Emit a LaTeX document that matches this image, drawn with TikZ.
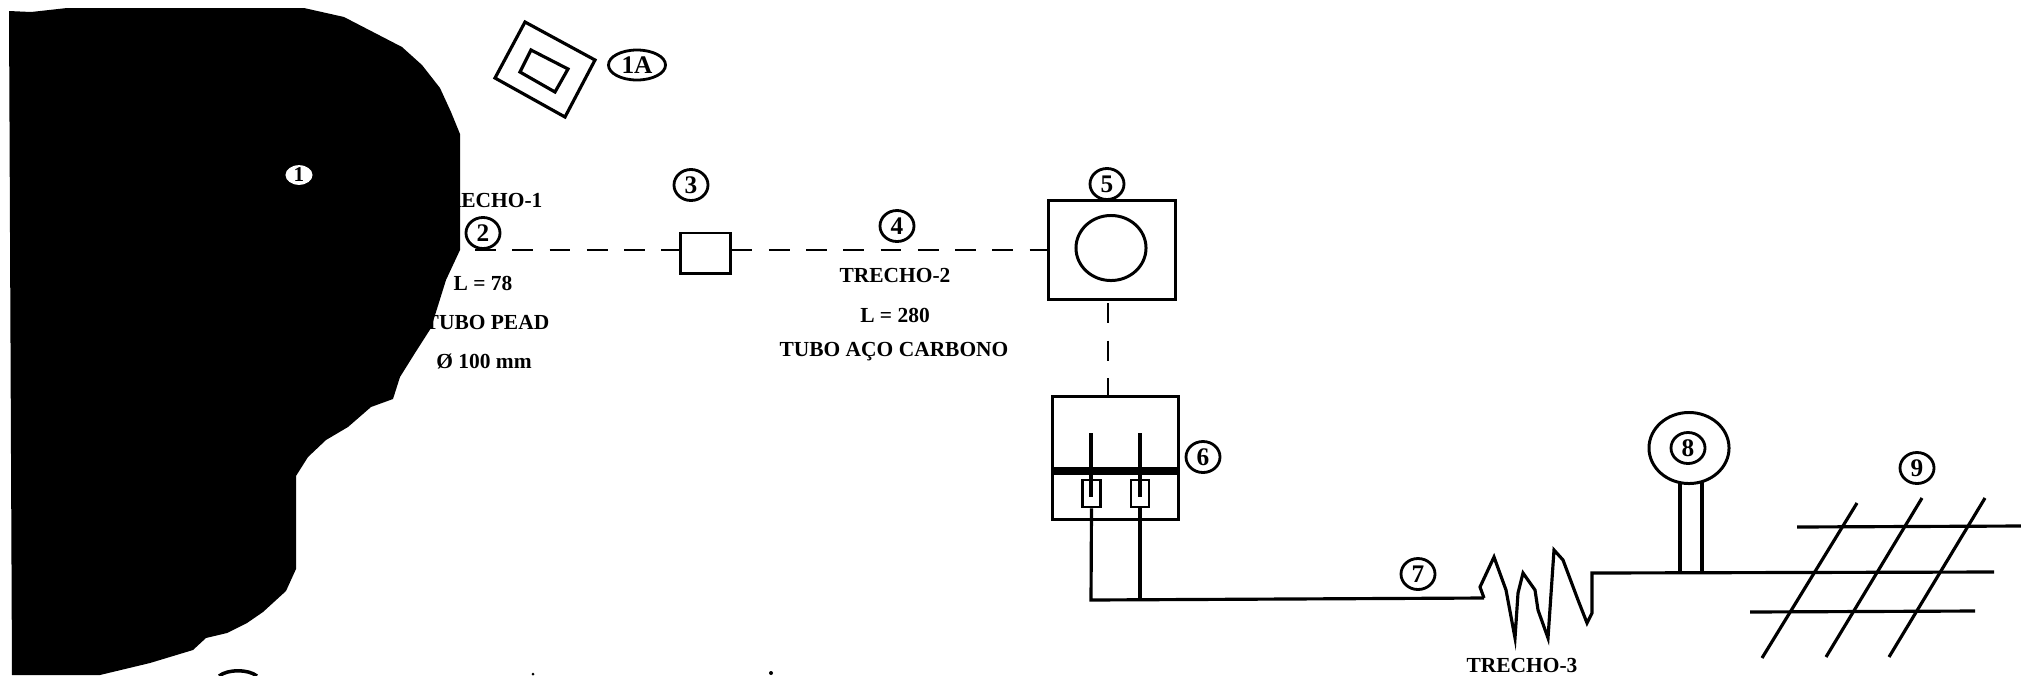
\documentclass[tikz,border=0pt]{standalone}
\usepackage{fontspec}
\setmainfont{Liberation Serif}
\usetikzlibrary{shapes.geometric}
\tikzset{
    trecho/.style={font=\fontsize{6.1}{7}\selectfont\bfseries,inner sep=0pt},
    tag/.style={draw,ellipse,line width=0.8pt,inner sep=0pt,minimum width=0.34cm,minimum height=0.31cm,font=\fontsize{7.2}{8}\selectfont\bfseries},
    pipe/.style={line width=0.9pt},
    buried/.style={line width=0.7pt,dash pattern=on 5.9pt off 4.7pt},
    thin box/.style={draw,line width=0.85pt,inner sep=0pt}
}
\begin{document}
\begin{tikzpicture}[x=0.01cm,y=-0.01cm]
    \useasboundingbox (0,0) rectangle (2021,675);
    % texts of the first stretch, the dark area covers their left part
    \node[trecho] (t1a) at (487,200) {TRECHO-1};
    \node[trecho] (t1b) at (483,283) {L = 78};
    \node[trecho] (t1c) at (487,322) {TUBO PEAD};
    \node[trecho] (t1d) at (484,361) {Ø 100 mm};
    % dark area with its mark
    \fill[black] (9,11) -- (31,12) -- (67,8) -- (304,8) -- (344,17) -- (402,47) -- (422,65) -- (440,88) -- (451,112) -- (460,134) -- (460,250) -- (446,280) -- (431,328) -- (415,353) -- (400,377) -- (393,399) -- (371,407) -- (348,427) -- (326,440) -- (308,457) -- (296,476) -- (296,569) -- (286,591) -- (263,612) -- (247,623) -- (227,633) -- (206,638) -- (193,650) -- (150,663) -- (100,675) -- (12,675) -- cycle;
    \node[ellipse,fill=white,inner sep=0pt,minimum width=0.27cm,minimum height=0.19cm,font=\fontsize{6}{7}\selectfont\bfseries] (m1) at (299,175) {1};
    % building 1A
    \draw[pipe] (525,22) -- (595,60) -- (565,117) -- (495,78) -- cycle;
    \draw[pipe] (531,50) -- (568,69) -- (555,92) -- (520,72) -- cycle;
    \node[tag,minimum width=0.57cm,minimum height=0.30cm] (m1a) at (637,65) {1A};
    % stretch 1 up to box 3
    \node[tag] (m2) at (483,233) {2};
    \coordinate (start) at (475,250);
    \node[thin box,minimum width=0.49cm,minimum height=0.40cm] (box3) at (705.5,253) {};
    \node[tag] (m3) at (691,185) {3};
    \draw[buried] (start) -- (box3.west |- start);
    % stretch 2 up to box 5
    \node[thin box,minimum width=1.26cm,minimum height=0.98cm] (box5) at (1112,250) {};
    \node[draw,ellipse,line width=0.85pt,minimum width=0.70cm,minimum height=0.65cm,inner sep=0pt] (circ5) at (1111,248) {};
    \node[tag] (m5) at (1107,184) {5};
    \node[tag] (m4) at (897,226) {4};
    \draw[buried] (box3.east |- start) -- (box5.west |- start);
    \node[trecho] (t2a) at (895,275) {TRECHO-2};
    \node[trecho] (t2b) at (895,315) {L = 280};
    \node[trecho] (t2c) at (894,352) {TUBO AÇO CARBONO};
    % box 6
    \node[thin box,minimum width=1.25cm,minimum height=1.22cm] (box6) at (1115.5,458) {};
    \node[tag] (m6) at (1203,457) {6};
    \coordinate (top6) at (1108,303);
    \draw[buried,dash pattern=on 5.8pt off 4.9pt] (top6) -- (top6 |- box6.north);
    \draw[line width=2pt] (box6.west |- 0,471) -- (box6.east |- 0,471);
    \node[thin box,line width=0.75pt,minimum width=0.18cm,minimum height=0.27cm] (fuseA) at (1091.5,493.5) {};
    \node[thin box,line width=0.75pt,minimum width=0.18cm,minimum height=0.27cm] (fuseB) at (1140,493.5) {};
    \draw[pipe] (1091,433) -- (1091,497);
    \draw[pipe] (1140,433) -- (1140,497);
    % stretch 3
    \coordinate (elbow) at (1091,600);
    \coordinate (rise) at (1484,598);
    \draw[pipe] (fuseA.south) -- (elbow) -- (rise);
    \draw[pipe] (fuseB.south) -- (fuseB.south |- elbow);
    \draw[pipe] (rise) -- (1480,587) -- (1494,557) -- (1506,590) -- (1515,638) -- (1518,593) -- (1523,573) -- (1535,590) -- (1538,610) -- (1548,638) -- (1554,550) -- (1563,560) -- (1578,600) -- (1587,623) -- (1592,613) -- (1592,573) -- (1994,572);
    \node[tag] (m7) at (1418,574) {7};
    \node[trecho] (t3a) at (1522,665) {TRECHO-3};
    % item 8 on its two legs
    \node[draw,ellipse,line width=0.85pt,minimum width=0.80cm,minimum height=0.71cm,inner sep=0pt] (circ8) at (1689,448) {};
    \node[tag] (m8) at (1688,448) {8};
    \draw[pipe] (1680,482) -- (1680,572);
    \draw[pipe] (1702,482) -- (1702,572);
    % grid 9
    \node[tag] (m9) at (1917,468) {9};
    \draw[pipe] (1797,527) -- (2021,526);
    \draw[pipe] (1750,612) -- (1975,611);
    \foreach \xa/\ya/\xb/\yb in {1857/503/1762/658,1922/498/1826/657,1985/498/1889/657}
        \draw[pipe] (\xa,\ya) -- (\xb,\yb);
    % remains at the lower edge
    \draw[line width=1pt] (219,676) .. controls (228,669) and (248,669) .. (257,676);
    \fill (533,674) circle (1.5);
    \fill (771,673) circle (2);
\end{tikzpicture}
\end{document}
